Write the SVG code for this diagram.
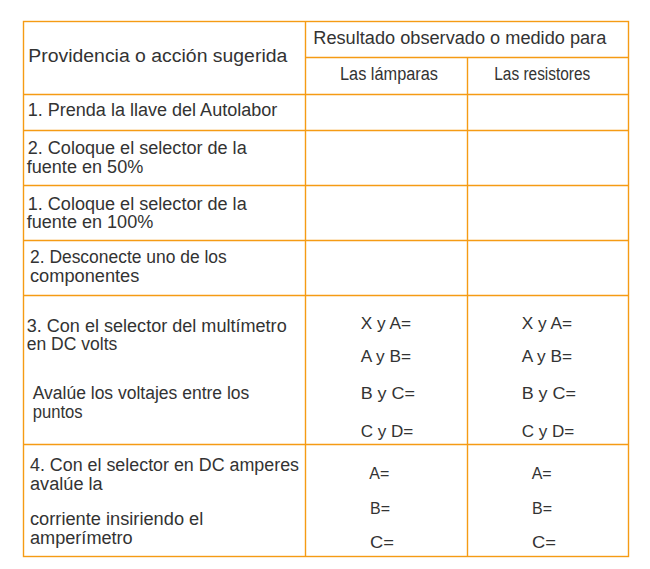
<svg xmlns="http://www.w3.org/2000/svg" width="650" height="569" viewBox="0 0 650 569">
<style>
.grid line{stroke:#F59B14;stroke-width:1.4;fill:none}
.grid rect{stroke:#F59B14;stroke-width:1.4;fill:none}
text{font-family:"Liberation Sans","DejaVu Sans",sans-serif;fill:#333;font-size:18px}
.v{font-size:17px}
</style>
<rect width="650" height="569" fill="#fff"/>
<g id="grid" class="grid">
<rect x="23.5" y="21.5" width="605" height="535"/>
<line x1="305.5" y1="21.5" x2="305.5" y2="556.5"/>
<line x1="467.5" y1="57.5" x2="467.5" y2="556.5"/>
<line x1="305.5" y1="57.5" x2="628.5" y2="57.5"/>
<line x1="23.5" y1="94.5" x2="628.5" y2="94.5"/>
<line x1="23.5" y1="130.5" x2="628.5" y2="130.5"/>
<line x1="23.5" y1="185.5" x2="628.5" y2="185.5"/>
<line x1="23.5" y1="240.5" x2="628.5" y2="240.5"/>
<line x1="23.5" y1="295.5" x2="628.5" y2="295.5"/>
<line x1="23.5" y1="444.5" x2="628.5" y2="444.5"/>
</g>
<g id="header">
<text x="28.3" y="62" textLength="259" lengthAdjust="spacingAndGlyphs">Providencia o acción sugerida</text>
<text x="313.3" y="43.5" textLength="293" lengthAdjust="spacingAndGlyphs">Resultado observado o medido para</text>
<text x="340" y="79.5" textLength="98" lengthAdjust="spacingAndGlyphs">Las lámparas</text>
<text x="494.3" y="79.5" textLength="96" lengthAdjust="spacingAndGlyphs">Las resistores</text>
</g>
<g id="row1">
<text x="27.7" y="116" textLength="249.6" lengthAdjust="spacingAndGlyphs">1. Prenda la llave del Autolabor</text>
</g>
<g id="row2">
<text x="27.7" y="154.3" textLength="219" lengthAdjust="spacingAndGlyphs">2. Coloque el selector de la</text>
<text x="26.7" y="172.7" textLength="116.6" lengthAdjust="spacingAndGlyphs">fuente en 50%</text>
</g>
<g id="row3">
<text x="27.7" y="210" textLength="219" lengthAdjust="spacingAndGlyphs">1. Coloque el selector de la</text>
<text x="26.7" y="228.3" textLength="126.6" lengthAdjust="spacingAndGlyphs">fuente en 100%</text>
</g>
<g id="row4">
<text x="30" y="263" textLength="196.7" lengthAdjust="spacingAndGlyphs">2. Desconecte uno de los</text>
<text x="30" y="281.5" textLength="109.3" lengthAdjust="spacingAndGlyphs">componentes</text>
</g>
<g id="row5">
<text x="26.7" y="331.7" textLength="260" lengthAdjust="spacingAndGlyphs">3. Con el selector del multímetro</text>
<text x="26.7" y="350" textLength="90.6" lengthAdjust="spacingAndGlyphs">en DC volts</text>
<text x="32.7" y="399.3" textLength="216.6" lengthAdjust="spacingAndGlyphs">Avalúe los voltajes entre los</text>
<text x="32.7" y="418.3" textLength="50" lengthAdjust="spacingAndGlyphs">puntos</text>
<text class="v" x="360.7" y="329" textLength="50.3" lengthAdjust="spacingAndGlyphs">X y A=</text>
<text class="v" x="360.7" y="362.3" textLength="50.3" lengthAdjust="spacingAndGlyphs">A y B=</text>
<text class="v" x="360.7" y="399" textLength="54.3" lengthAdjust="spacingAndGlyphs">B y C=</text>
<text class="v" x="360.7" y="437.3" textLength="52.6" lengthAdjust="spacingAndGlyphs">C y D=</text>
<text class="v" x="521.7" y="329" textLength="50.3" lengthAdjust="spacingAndGlyphs">X y A=</text>
<text class="v" x="521.7" y="362.3" textLength="50.3" lengthAdjust="spacingAndGlyphs">A y B=</text>
<text class="v" x="521.7" y="399" textLength="54.3" lengthAdjust="spacingAndGlyphs">B y C=</text>
<text class="v" x="521.7" y="437.3" textLength="52.6" lengthAdjust="spacingAndGlyphs">C y D=</text>
</g>
<g id="row6">
<text x="30" y="470.7" textLength="269" lengthAdjust="spacingAndGlyphs">4. Con el selector en DC amperes</text>
<text x="30" y="490" textLength="72.7" lengthAdjust="spacingAndGlyphs">avalúe la</text>
<text x="30" y="525" textLength="173.3" lengthAdjust="spacingAndGlyphs">corriente insiriendo el</text>
<text x="30" y="544" textLength="102.7" lengthAdjust="spacingAndGlyphs">amperímetro</text>
<text class="v" x="369.3" y="479" textLength="20" lengthAdjust="spacingAndGlyphs">A=</text>
<text class="v" x="370" y="514" textLength="20" lengthAdjust="spacingAndGlyphs">B=</text>
<text class="v" x="370" y="548.3" textLength="24" lengthAdjust="spacingAndGlyphs">C=</text>
<text class="v" x="531.7" y="479" textLength="20" lengthAdjust="spacingAndGlyphs">A=</text>
<text class="v" x="532" y="514" textLength="20" lengthAdjust="spacingAndGlyphs">B=</text>
<text class="v" x="532" y="548.3" textLength="24" lengthAdjust="spacingAndGlyphs">C=</text>
</g>
</svg>
